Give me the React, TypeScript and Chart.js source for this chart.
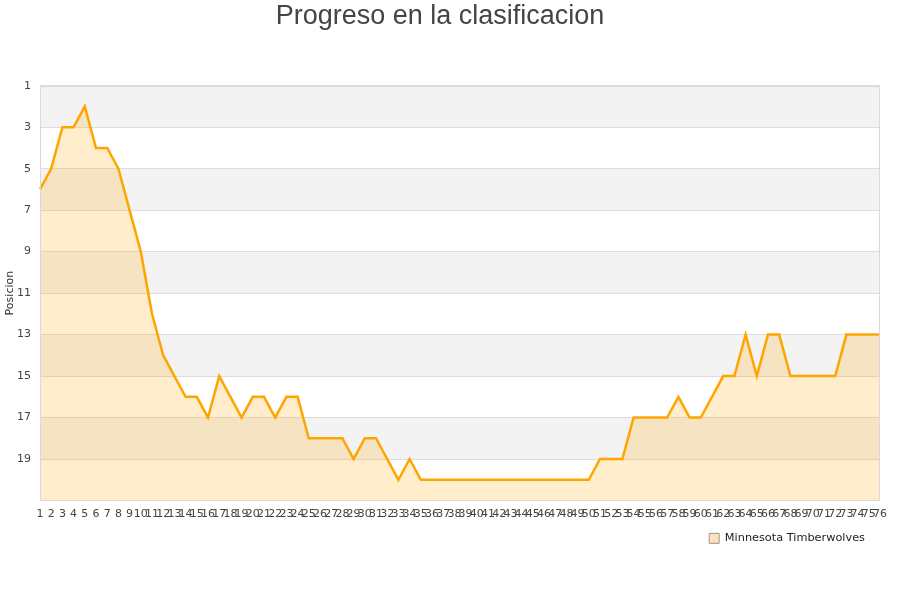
import React, { useEffect, useRef } from "react";
import { Chart, registerables } from "chart.js";

Chart.register(...registerables);

const TITLE = "Progreso en la clasificacion";
const SERIES_NAME = "Minnesota Timberwolves";
const Y_TITLE = "Posicion";

const jornadas: string[] = Array.from({ length: 76 }, (_, i) => String(i + 1));

const posiciones: number[] = [
  6, 5, 3, 3, 2, 4, 4, 5, 7, 9,
  12, 14, 15, 16, 16, 17, 15, 16, 17, 16,
  16, 17, 16, 16, 18, 18, 18, 18, 19, 18,
  18, 19, 20, 19, 20, 20, 20, 20, 20, 20,
  20, 20, 20, 20, 20, 20, 20, 20, 20, 20,
  19, 19, 19, 17, 17, 17, 17, 16, 17, 17,
  16, 15, 15, 13, 15, 13, 13, 15, 15, 15,
  15, 15, 13, 13, 13, 13,
];

const bandRanges: [number, number][] = [
  [1, 3],
  [5, 7],
  [9, 11],
  [13, 15],
  [17, 19],
];

const Y_MIN = 1;
const Y_MAX = 21;

const bandsPlugin = {
  id: "bands",
  afterLayout(chart: any) {
    const lg = chart.legend;
    if (lg) {
      lg.right -= 10;
      lg.width -= 10;
    }
  },
  beforeDraw(chart: any) {
    const { ctx, chartArea, scales } = chart;
    const y = scales.y;
    ctx.save();
    ctx.fillStyle = "#f3f3f3";
    for (const [a, b] of bandRanges) {
      const p1 = y.getPixelForValue(a);
      const p2 = y.getPixelForValue(b);
      ctx.fillRect(chartArea.left, Math.min(p1, p2), chartArea.right - chartArea.left, Math.abs(p2 - p1));
    }
    ctx.restore();
  },
  afterDraw(chart: any) {
    const { ctx, chartArea } = chart;
    ctx.save();
    ctx.strokeStyle = "#d9d9d9";
    ctx.lineWidth = 1;
    ctx.strokeRect(
      Math.round(chartArea.left) + 0.5,
      Math.round(chartArea.top) + 0.5,
      Math.round(chartArea.right - chartArea.left) - 1,
      Math.round(chartArea.bottom - chartArea.top) - 1
    );
    ctx.restore();
  },
};

export default function App() {
  const ref = useRef<HTMLCanvasElement | null>(null);

  useEffect(() => {
    if (!ref.current) return;
    const chart = new Chart(ref.current, {
      type: "line",
      data: {
        labels: jornadas,
        datasets: [
          {
            label: SERIES_NAME,
            data: posiciones,
            borderColor: "#FFA500",
            backgroundColor: "rgba(255,165,0,0.2)",
            borderWidth: 2.5,
            pointRadius: 0,
            pointHoverRadius: 0,
            tension: 0,
            fill: { value: Y_MAX },
          },
        ],
      },
      options: {
        animation: false,
        responsive: false,
        maintainAspectRatio: false,
        layout: { padding: { left: 0, right: 20, top: 0, bottom: 46 } },
        plugins: {
          title: {
            display: true,
            text: TITLE,
            color: "#444444",
            font: { family: "'Liberation Sans', Arial, sans-serif", size: 27, weight: "normal", lineHeight: 1.1 },
            padding: { top: 2, bottom: 54 },
          },
          legend: {
            display: true,
            position: "bottom",
            align: "end",
            labels: {
              boxWidth: 10,
              boxHeight: 10,
              padding: 5,
              color: "#222222",
              font: { family: "'DejaVu Sans', sans-serif", size: 11.3 },
              generateLabels: (c: any) =>
                c.data.datasets.map((ds: any, i: number) => ({
                  text: ds.label,
                  fillStyle: "rgba(255,222,175,0.9)",
                  strokeStyle: "#999999",
                  lineWidth: 1,
                  hidden: false,
                  datasetIndex: i,
                  fontColor: "#222222",
                })),
            },
          },
          tooltip: { enabled: false },
        },
        scales: {
          x: {
            grid: { display: false, drawTicks: false },
            border: { display: false },
            ticks: {
              autoSkip: false,
              maxRotation: 0,
              minRotation: 0,
              padding: 7,
              color: "#444444",
              font: { family: "'DejaVu Sans', sans-serif", size: 11 },
            },
          },
          y: {
            reverse: true,
            min: Y_MIN,
            max: Y_MAX,
            afterBuildTicks: (scale: any) => {
              scale.ticks = scale.ticks.filter((t: any) => t.value !== Y_MAX);
            },
            afterFit: (scale: any) => {
              scale.width = 40;
            },
            grid: { color: "#dddddd", drawTicks: false },
            border: { display: false },
            ticks: {
              stepSize: 2,
              padding: 9,
              color: "#444444",
              font: { family: "'DejaVu Sans', sans-serif", size: 11 },
            },
            title: {
              display: true,
              text: Y_TITLE,
              color: "#333333",
              padding: 4,
              font: { family: "'DejaVu Sans', sans-serif", size: 11 },
            },
          },
        },
      },
      plugins: [bandsPlugin],
    });
    return () => chart.destroy();
  }, []);

  return (
    <div style={{ position: "fixed", left: 0, top: 0, width: 900, height: 600, background: "#ffffff" }}>
      <canvas ref={ref} width={900} height={600} style={{ width: 900, height: 600 }} />
    </div>
  );
}
